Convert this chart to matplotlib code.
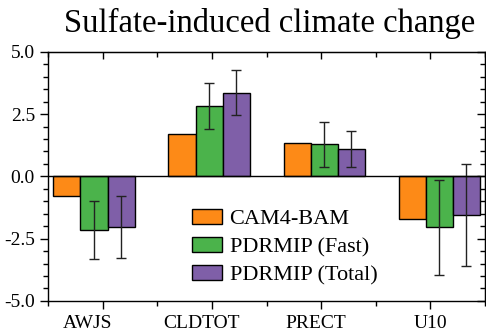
import numpy as np
import matplotlib.pyplot as plt
from matplotlib.ticker import MultipleLocator

# data
categories = ['AWJS', 'CLDTOT', 'PRECT', 'U10']
series = ['CAM4-BAM', 'PDRMIP (Fast)', 'PDRMIP (Total)']
cam4_bam = [-0.77, 1.68, 1.34, -1.71]
pdrmip_fast = [-2.15, 2.82, 1.29, -2.05]
pdrmip_total = [-2.04, 3.35, 1.10, -1.56]
fast_err = [1.17, 0.93, 0.90, 1.92]
total_err = [1.24, 0.90, 0.73, 2.04]

colors = ['#FD8A17', '#4BB34B', '#7F5FA8']

plt.rcParams['font.family'] = ['Liberation Serif', 'DejaVu Serif']

fig = plt.figure(figsize=(4.86, 3.34), dpi=100)
ax = fig.add_axes([0.099, 0.099, 0.899, 0.746])

x = np.arange(len(categories)) + 1
centers = 0.92 + 1.054 * np.arange(len(categories))
label_pos = 0.86 + 1.047 * np.arange(len(categories))
w = 0.248

vals = [cam4_bam, pdrmip_fast, pdrmip_total]
errs = [None, fast_err, total_err]
for i in range(3):
    xs = centers + (i - 1) * w
    ax.bar(xs, vals[i], width=w, color=colors[i], edgecolor='black',
           linewidth=1.0, label=series[i], zorder=2)
    if errs[i] is not None:
        ax.errorbar(xs, vals[i], yerr=errs[i], fmt='none', ecolor='#222222',
                    elinewidth=1.0, capsize=3.7, capthick=1.0, zorder=3)

ax.axhline(0, color='black', linewidth=1.0, zorder=4)

ax.set_xlim(0.5, 4.5)
ax.set_ylim(-5, 5)
ax.set_xticks(x)
ax.set_xticklabels([])
for p, c in zip(label_pos, categories):
    ax.text(p, -0.108, c, transform=ax.get_xaxis_transform(), ha='center',
            va='baseline', fontsize=14)
ax.xaxis.set_minor_locator(MultipleLocator(0.5))
ax.yaxis.set_major_locator(MultipleLocator(2.5))
ax.yaxis.set_minor_locator(MultipleLocator(0.5))
ax.set_yticklabels([f'{v:.1f}' for v in ax.get_yticks()], fontsize=14)
ax.tick_params(which='major', direction='out', length=6, width=1)
ax.tick_params(which='minor', direction='out', length=3.5, width=1)

# mirrored ticks on top and right pointing the same way
top = ax.secondary_xaxis('top')
top.set_xticks(x)
top.xaxis.set_minor_locator(MultipleLocator(0.5))
top.tick_params(which='major', direction='in', length=5, width=1, labeltop=False)
top.tick_params(which='minor', direction='in', length=3.5, width=1)
right = ax.secondary_yaxis('right')
right.yaxis.set_major_locator(MultipleLocator(2.5))
right.yaxis.set_minor_locator(MultipleLocator(0.5))
right.tick_params(which='major', direction='in', length=6, width=1, labelright=False)
right.tick_params(which='minor', direction='in', length=3.5, width=1)

for s in ax.spines.values():
    s.set_linewidth(1.0)

ax.legend(loc='upper left', bbox_to_anchor=(0.283, 0.45), frameon=False,
          fontsize=16, handlelength=1.35, handleheight=0.65,
          labelspacing=0.35, handletextpad=0.35)

fig.suptitle('Sulfate-induced climate change', fontsize=23.5, x=0.555, y=0.977)

plt.savefig('out.png', dpi=100)
